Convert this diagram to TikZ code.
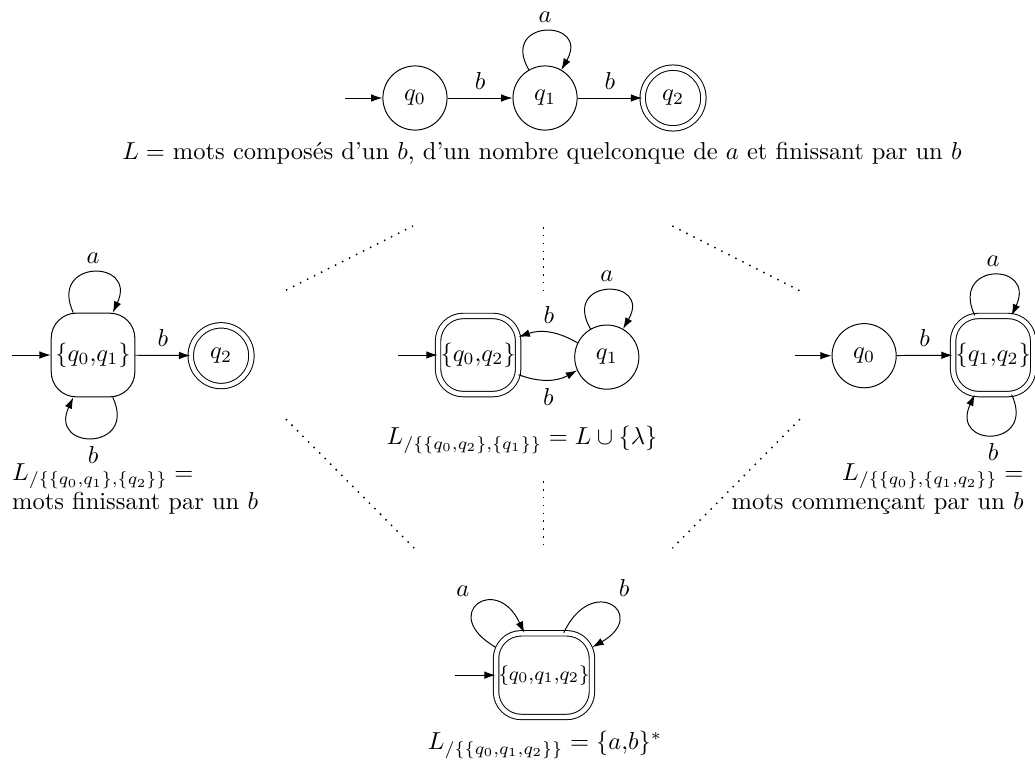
\documentclass[tikz,border=0pt]{standalone}
\usetikzlibrary{arrows.meta}

\tikzset{
  etat/.style={circle,draw,minimum size=0.92cm,inner sep=0pt},
  final/.style={double,double distance=1.8pt,minimum size=0.87cm},
  bloc/.style={rectangle,draw,rounded corners=0.36cm,minimum size=1.2cm,inner sep=1pt},
  blocfinal/.style={bloc,double,double distance=1.8pt,minimum size=1.12cm},
  trans/.style={-{Latex[length=4.6pt,width=3.1pt]}},
  treillis/.style={line width=0.6pt,dash pattern=on 0.6pt off 2.6pt},
}

\begin{document}
\begin{tikzpicture}
      \useasboundingbox (0,0) rectangle (14.84,-10.90);

      % automate de depart
      \coordinate (s0) at (4.95,-1.405);
      \node[etat] (q0) at (5.95,-1.405) {$q_0$};
      \node[etat] (q1) at (7.815,-1.405) {$q_1$};
      \node[etat,final] (q2) at (9.65,-1.405) {$q_2$};
      \draw[trans] (s0) -- (q0);
      \draw[trans] (q0) -- node[above] {$b$} (q1);
      \draw[trans] (q1) -- node[above] {$b$} (q2);
      \draw[trans] (q1) to[out=120,in=60,distance=0.85cm] node[above] {$a$} (q1);
      \node (lang) at (7.77,-2.19)
        {$L =$ mots composés d'un $b$, d'un nombre quelconque de $a$ et finissant par un $b$};

      % treillis
      \draw[treillis] (4.10,-4.16) -- (5.92,-3.24);
      \draw[treillis] (7.79,-3.255) -- (7.79,-4.16);
      \draw[treillis] (9.64,-3.24) -- (11.47,-4.17);
      \draw[treillis] (4.10,-6.01) -- (5.94,-7.86);
      \draw[treillis] (7.79,-6.90) -- (7.79,-7.86);
      \draw[treillis] (11.47,-6.01) -- (9.64,-7.86);

      % gauche
      \coordinate (sg) at (0.17,-5.09);
      \node[bloc] (g01) at (1.334,-5.09) {$\{q_0{,}q_1\}$};
      \node[etat,final] (g2) at (3.17,-5.10) {$q_2$};
      \draw[trans] (sg) -- (g01);
      \draw[trans] (g01) -- node[above] {$b$} (g2);
      \draw[trans] (g01) to[out=115,in=65,distance=0.85cm] node[above] {$a$} (g01);
      \draw[trans] (g01) to[out=-65,in=-115,distance=0.85cm] node[below] {$b$} (g01);
      \node[align=left,anchor=west] (langg) at (0.05,-7.01)
        {$L_{/\{\{q_0,q_1\},\{q_2\}\}} =$\\mots finissant par un $b$};

      % milieu
      \coordinate (sm) at (5.71,-5.09);
      \node[blocfinal] (m02) at (6.855,-5.09) {$\{q_0{,}q_2\}$};
      \node[etat] (m1) at (8.70,-5.12) {$q_1$};
      \draw[trans] (sm) -- (m02);
      \draw[trans] (m1) to[bend right=25] node[above] {$b$} (m02);
      \draw[trans] (m02) to[bend right=25] node[below] {$b$} (m1);
      \draw[trans] (m1) to[out=120,in=60,distance=0.85cm] node[above] {$a$} (m1);
      \node (langm) at (7.485,-6.31) {$L_{/\{\{q_0,q_2\},\{q_1\}\}} = L \cup \{\lambda\}$};

      % droite
      \coordinate (sd) at (11.40,-5.10);
      \node[etat] (d0) at (12.39,-5.10) {$q_0$};
      \node[blocfinal] (d12) at (14.24,-5.09) {$\{q_1{,}q_2\}$};
      \draw[trans] (sd) -- (d0);
      \draw[trans] (d0) -- node[above] {$b$} (d12);
      \draw[trans] (d12) to[out=115,in=65,distance=0.85cm] node[above] {$a$} (d12);
      \draw[trans] (d12) to[out=-65,in=-115,distance=0.85cm] node[below] {$b$} (d12);
      \node[align=right,anchor=east] (langd) at (14.80,-7.01)
        {$L_{/\{\{q_0\},\{q_1,q_2\}\}} =$\\mots commençant par un $b$};

      % bas
      \coordinate (sb) at (6.525,-9.68);
      \node[blocfinal,minimum width=1.30cm,minimum height=1.20cm,font=\footnotesize] (b012) at (7.80,-9.68) {$\{q_0{,}q_1{,}q_2\}$};
      \draw[trans] (sb) -- (b012);
      \draw[trans] (b012) to[out=150,in=115,distance=0.95cm] node[above left] {$a$} (b012);
      \draw[trans] (b012) to[out=65,in=30,distance=0.95cm] node[above right] {$b$} (b012);
      \node (langb) at (7.815,-10.68) {$L_{/\{\{q_0,q_1,q_2\}\}} = \{a{,}b\}^*$};
\end{tikzpicture}
\end{document}
